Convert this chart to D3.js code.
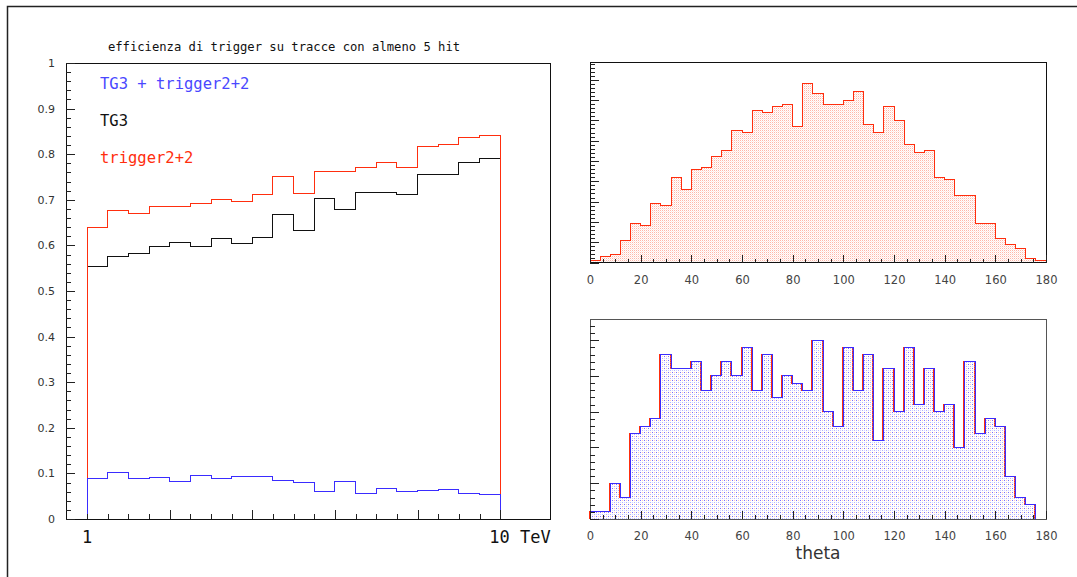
<!DOCTYPE html>
<html>
<head>
<meta charset="utf-8">
<script src="https://cdn.jsdelivr.net/npm/d3@7"></script>
<style>
  body { margin: 0; background: #fff; }
  svg { display: block; }
  .tick text { font-family: "DejaVu Sans", sans-serif; font-size: 11px; fill: #333; }
  .tick line { stroke: #222; }
</style>
</head>
<body>
<svg id="chart" width="1077" height="577"></svg>
<script>
// ---- data ----
// efficiency histograms, 20 bins in log10(E) between 1 and 10 TeV
const effTrigger22 = [0.639, 0.677, 0.670, 0.686, 0.686, 0.691, 0.701, 0.697, 0.712, 0.751,
                      0.714, 0.762, 0.762, 0.770, 0.782, 0.771, 0.816, 0.821, 0.837, 0.841];
const effTG3 = [0.554, 0.575, 0.583, 0.597, 0.606, 0.597, 0.615, 0.605, 0.618, 0.667,
                0.633, 0.703, 0.678, 0.716, 0.716, 0.712, 0.756, 0.756, 0.782, 0.791];
const effBoth = [0.088, 0.103, 0.088, 0.090, 0.083, 0.096, 0.088, 0.094, 0.094, 0.085,
                 0.081, 0.061, 0.083, 0.055, 0.067, 0.061, 0.063, 0.065, 0.055, 0.053];

// theta histograms, 45 bins of 4 degrees
const thetaAll = [1, 3, 4, 11, 19, 18, 29, 28, 42, 36, 46, 47, 52, 55, 65,
                  64, 75, 74, 77, 78, 67, 88, 83, 78, 78, 80, 84, 68, 64, 77,
                  70, 58, 54, 55, 42, 41, 33, 33, 19, 19, 12, 9, 7, 2, 1];
const thetaTrig = [1, 1, 5, 3, 12, 13, 14, 23, 21, 21, 22, 18, 20, 22, 20,
                   24, 18, 23, 17, 20, 19, 18, 25, 15, 13, 24, 18, 23, 11, 21,
                   15, 24, 16, 21, 15, 16, 10, 22, 12, 14, 13, 6, 3, 2, 0];

const legendLabels = ['TG3 + trigger2+2', 'TG3', 'trigger2+2'];
const effYTicks = [0, 0.1, 0.2, 0.3, 0.4, 0.5, 0.6, 0.7, 0.8, 0.9, 1];
const thetaTicks = [0, 20, 40, 60, 80, 100, 120, 140, 160, 180];

const energyEdges = d3.range(21).map(i => Math.pow(10, i / 20));
const thetaEdges = d3.range(0, 181, 4);

const RED = '#ff2e0e';
const BLUE = '#3a2cff';

const svg = d3.select('#chart');

// outer pad frame
svg.append('path')
    .attr('d', 'M7.5,577V6.5H1077')
    .attr('fill', 'none')
    .attr('stroke', '#222')
    .attr('stroke-width', 1.5);

// fill patterns (ROOT style dots)
const defs = svg.append('defs');
const pRed = defs.append('pattern').attr('id', 'dotsRed')
    .attr('width', 2).attr('height', 2).attr('patternUnits', 'userSpaceOnUse');
pRed.append('rect').attr('width', 1).attr('height', 1).attr('fill', '#ff7a60').attr('opacity', 0.55);
pRed.append('rect').attr('x', 1).attr('y', 1).attr('width', 1).attr('height', 1).attr('fill', '#ffb0a0').attr('opacity', 0.3);

const pMix = defs.append('pattern').attr('id', 'dotsMix')
    .attr('width', 4).attr('height', 4).attr('patternUnits', 'userSpaceOnUse');
pMix.append('rect').attr('x', 0).attr('y', 0).attr('width', 1).attr('height', 1).attr('fill', '#4a40ff').attr('opacity', 0.75);
pMix.append('rect').attr('x', 2).attr('y', 2).attr('width', 1).attr('height', 1).attr('fill', '#8080ff').attr('opacity', 0.6);
pMix.append('rect').attr('x', 2).attr('y', 0).attr('width', 1).attr('height', 1).attr('fill', '#ff8a70').attr('opacity', 0.45);
pMix.append('rect').attr('x', 0).attr('y', 2).attr('width', 1).attr('height', 1).attr('fill', '#a8a8ff').attr('opacity', 0.5);

// step outline of a histogram, closed down to zero at both ends
function stepPath(edges, vals, x, y) {
    const pts = vals.map((v, i) => [edges[i], v]);
    pts.push([edges[edges.length - 1], vals[vals.length - 1]]);
    const line = d3.line().x(d => x(d[0])).y(d => y(d[1])).curve(d3.curveStepAfter);
    const last = edges[edges.length - 1];
    return 'M' + x(edges[0]) + ',' + y(0) + line(pts).replace(/^M/, 'L') + 'L' + x(last) + ',' + y(0);
}

function drawHist(g, edges, vals, x, y, stroke, fill, width) {
    return g.append('path')
        .attr('d', stepPath(edges, vals, x, y))
        .attr('fill', fill || 'none')
        .attr('stroke', stroke)
        .attr('stroke-width', width || 1)
        .attr('shape-rendering', 'crispEdges');
}

function frame(g, box, color) {
    g.append('rect')
        .attr('x', box.x0).attr('y', box.y0)
        .attr('width', box.x1 - box.x0).attr('height', box.y1 - box.y0)
        .attr('fill', 'none')
        .attr('stroke', color || '#111')
        .attr('shape-rendering', 'crispEdges');
}

function tickAxis(g, axis, tx, ty) {
    const a = g.append('g').attr('transform', `translate(${tx},${ty})`).call(axis);
    a.select('.domain').remove();
    a.selectAll('line').attr('shape-rendering', 'crispEdges');
    return a;
}

// =========================================
// LEFT: efficiency vs energy
// =========================================
const L = { x0: 66, x1: 550, y0: 63, y1: 519 };
const xE = d3.scaleLog().domain([0.8895, 13.19]).range([L.x0, L.x1]);
const yE = d3.scaleLinear().domain([0, 1]).range([L.y1, L.y0]);
const gL = svg.append('g');

svg.append('text')
    .attr('x', 284).attr('y', 51)
    .attr('text-anchor', 'middle')
    .style('font-family', '"DejaVu Sans Mono", monospace')
    .style('font-size', '12.2px')
    .attr('fill', '#111')
    .text('efficienza di trigger su tracce con almeno 5 hit');

drawHist(gL, energyEdges, effTG3, xE, yE, '#111');
drawHist(gL, energyEdges, effTrigger22, xE, yE, RED);
drawHist(gL, energyEdges, effBoth, xE, yE, BLUE);

frame(gL, L);

tickAxis(gL, d3.axisLeft(yE).tickValues(d3.range(0, 1.001, 0.02)).tickSize(-5).tickFormat(''), L.x0, 0);
tickAxis(gL, d3.axisLeft(yE).tickValues(effYTicks).tickSize(-9).tickPadding(11)
    .tickFormat(d => String(+d.toFixed(1))), L.x0, 0);

tickAxis(gL, d3.axisBottom(xE).tickValues(energyEdges).tickSize(-5).tickFormat(''), 0, L.y1);
tickAxis(gL, d3.axisBottom(xE).tickValues(energyEdges.filter((d, i) => i % 4 === 0 && i > 0))
    .tickSize(-9).tickFormat(''), 0, L.y1);

const monoBig = '"DejaVu Sans Mono", monospace';
gL.append('text').attr('x', xE(1)).attr('y', 543).attr('text-anchor', 'middle')
    .style('font-family', monoBig).style('font-size', '17px').attr('fill', '#111').text('1');
gL.append('text').attr('x', xE(10) - 11).attr('y', 543)
    .style('font-family', monoBig).style('font-size', '17px').attr('fill', '#111').text('10 TeV');

// legend
const legendColors = ['#4a48ff', '#111', RED];
const legendY = [89, 126, 163];
legendLabels.forEach((t, i) => {
    gL.append('text')
        .attr('x', 100).attr('y', legendY[i])
        .style('font-family', monoBig)
        .style('font-size', '15.5px')
        .attr('fill', legendColors[i])
        .text(t);
});

// =========================================
// RIGHT: theta distributions
// =========================================
const T = { x0: 590, x1: 1046, y0: 62.5, y1: 262.5 };
const B = { x0: 590, x1: 1046, y0: 319.5, y1: 519 };

function thetaPanel(box, yMax, majorStep, minorStep, drawFn, frameColor) {
    const g = svg.append('g');
    const x = d3.scaleLinear().domain([0, 180]).range([box.x0, box.x1]);
    const y = d3.scaleLinear().domain([0, yMax]).range([box.y1, box.y0]);
    drawFn(g, x, y);
    frame(g, box, frameColor);
    tickAxis(g, d3.axisLeft(y).tickValues(d3.range(0, yMax, minorStep)).tickSize(-5).tickFormat(''), box.x0, 0);
    tickAxis(g, d3.axisLeft(y).tickValues(d3.range(0, yMax, majorStep)).tickSize(-9).tickFormat(''), box.x0, 0);
    tickAxis(g, d3.axisBottom(x).tickValues(d3.range(0, 181, 5)).tickSize(-4).tickFormat(''), 0, box.y1);
    tickAxis(g, d3.axisBottom(x).tickValues(thetaTicks).tickSize(-8).tickPadding(13), 0, box.y1)
        .selectAll('text').style('font-size', '11.5px').style('fill', '#444');
    return { g, x, y };
}

thetaPanel(T, 98.5, 10, 2, (g, x, y) => {
    drawHist(g, thetaEdges, thetaAll, x, y, RED, 'url(#dotsRed)');
}, '#111');

thetaPanel(B, 27.9, 5, 1, (g, x, y) => {
    // red histogram sits just under the blue one, showing at a few edges
    drawHist(g, thetaEdges, thetaTrig, x, y, RED, 'none').attr('transform', 'translate(-1,0)');
    drawHist(g, thetaEdges, thetaTrig, x, y, BLUE, 'url(#dotsMix)');
}, '#555');

svg.append('text')
    .attr('x', (B.x0 + B.x1) / 2).attr('y', 559)
    .attr('text-anchor', 'middle')
    .style('font-family', '"DejaVu Sans", sans-serif')
    .style('font-size', '17px')
    .attr('fill', '#333')
    .text('theta');
</script>
</body>
</html>
